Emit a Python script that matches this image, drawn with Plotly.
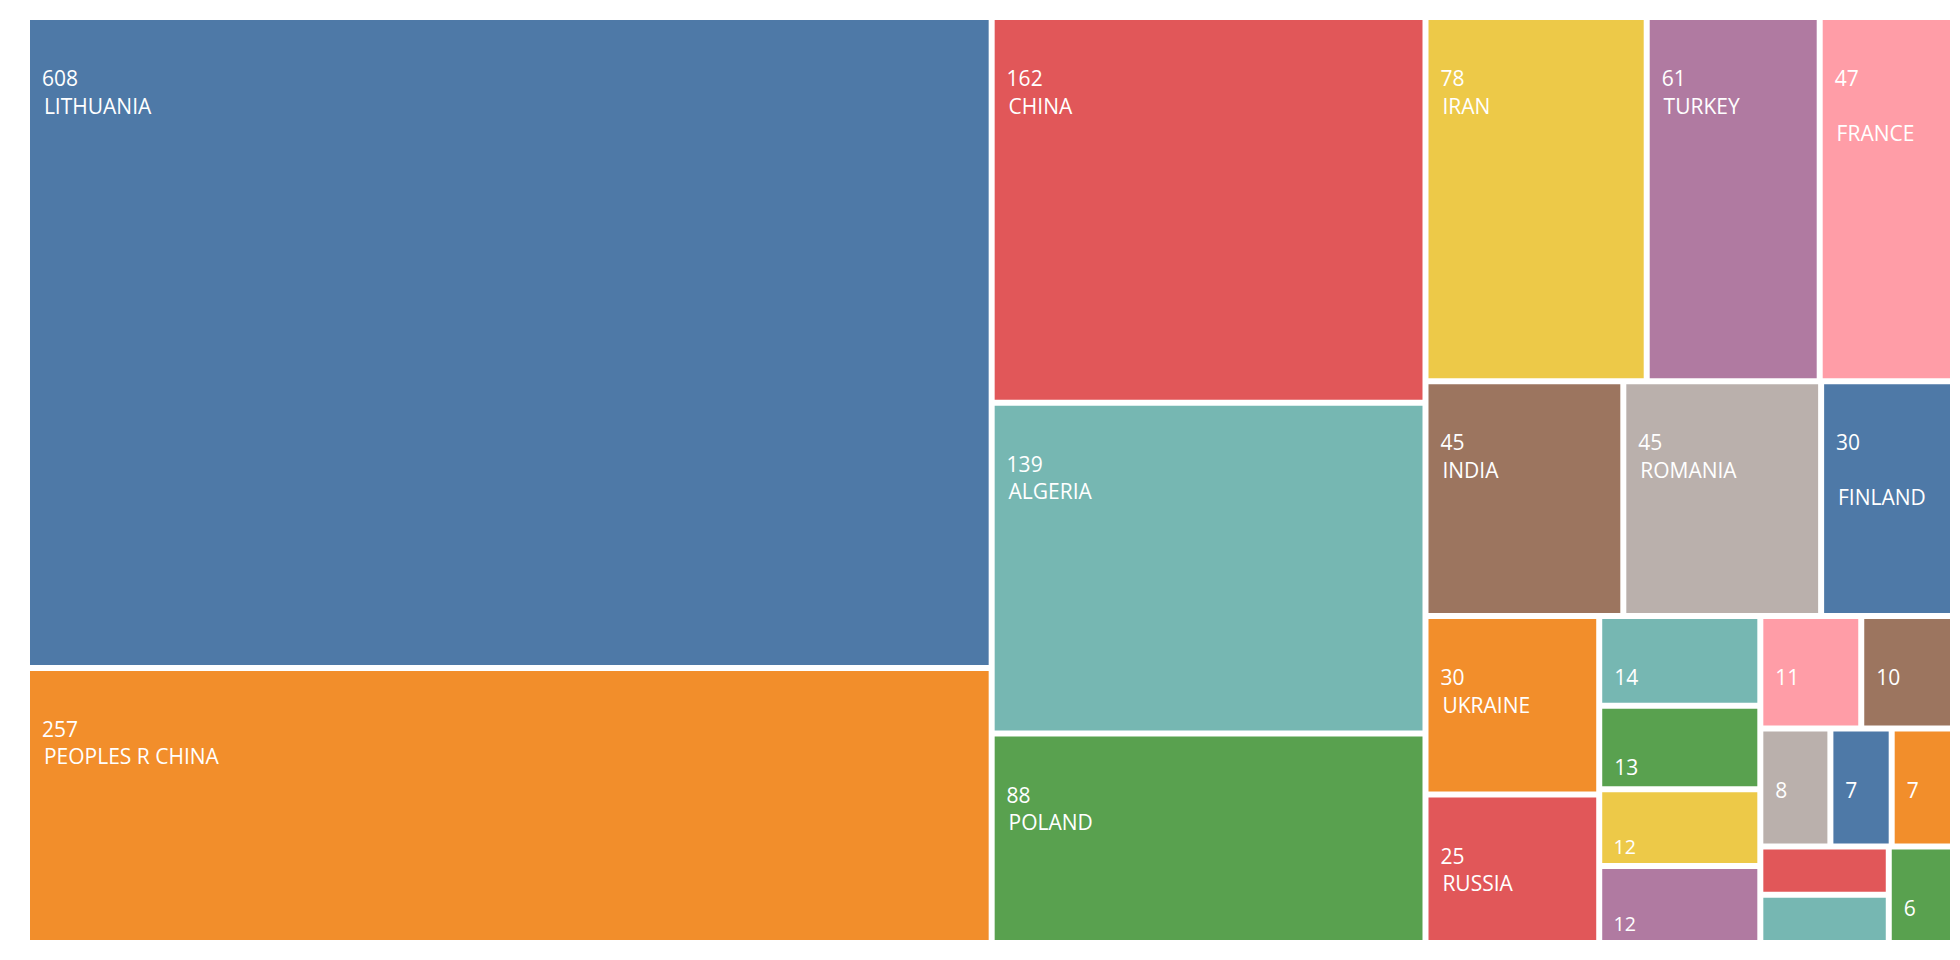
import plotly.graph_objects as go

countries = ["LITHUANIA", "PEOPLES R CHINA", "CHINA", "ALGERIA", "POLAND", "IRAN", "TURKEY",
             "FRANCE", "INDIA", "ROMANIA", "FINLAND", "UKRAINE", "RUSSIA", "ITALY", "USA",
             "SPAIN", "SOUTH KOREA", "BELARUS", "GERMANY", "SAUDI ARABIA", "ESTONIA",
             "PORTUGAL", "LATVIA", "ENGLAND", "JAPAN"]
counts = [608, 257, 162, 139, 88, 78, 61, 47, 45, 45, 30, 30, 25, 14, 13, 12, 12, 11, 10, 8, 7, 7, 6, 6, 6]
# how each cell's label is shown in the reference (full, value only, or nothing)
label_mode = ["full", "full", "full", "full", "full", "full", "full", "wide", "full", "full",
              "wide", "full", "full", "value", "value", "value", "value", "value", "value",
              "value", "value", "value", "none", "none", "value"]

palette = ["#4e79a7", "#f28e2b", "#e15759", "#76b7b2", "#59a14f",
           "#edc948", "#b07aa1", "#ff9da7", "#9c755f", "#bab0ac"]
colors = [palette[i % len(palette)] for i in range(len(countries))]

NB = "\u00a0"
top = "<span style='font-size:34px'>" + NB + "</span><br>"
templates = []
for m in label_mode:
    if m == "full":
        templates.append(top + NB + "\u2009%{value}<br>" + NB + NB + "%{label}")
    elif m == "wide":
        templates.append(top + NB + "\u2009%{value}<br>" + NB + "<br>" + NB + NB + "%{label}")
    elif m == "value":
        templates.append(top + NB + "\u2009%{value}")
    else:
        templates.append("")

fig = go.Figure(go.Treemap(
    labels=countries,
    parents=[""] * len(countries),
    values=counts,
    sort=True,
    marker=dict(colors=colors, line=dict(width=0), pad=dict(t=0, l=0, r=0, b=0)),
    tiling=dict(packing="squarify", squarifyratio=1.618, pad=6),
    texttemplate=templates,
    textposition="top left",
    textfont=dict(family="Open Sans", size=21, color="white"),
    insidetextfont=dict(family="Open Sans", size=21, color="white"),
    pathbar=dict(visible=False),
    root=dict(color="white"),
    hovertemplate="%{label}: %{value}<extra></extra>",
))

fig.update_layout(
    width=1944, height=944,
    margin=dict(l=22, r=2, t=12, b=12),
    paper_bgcolor="white",
)

fig.write_html("out.html")
